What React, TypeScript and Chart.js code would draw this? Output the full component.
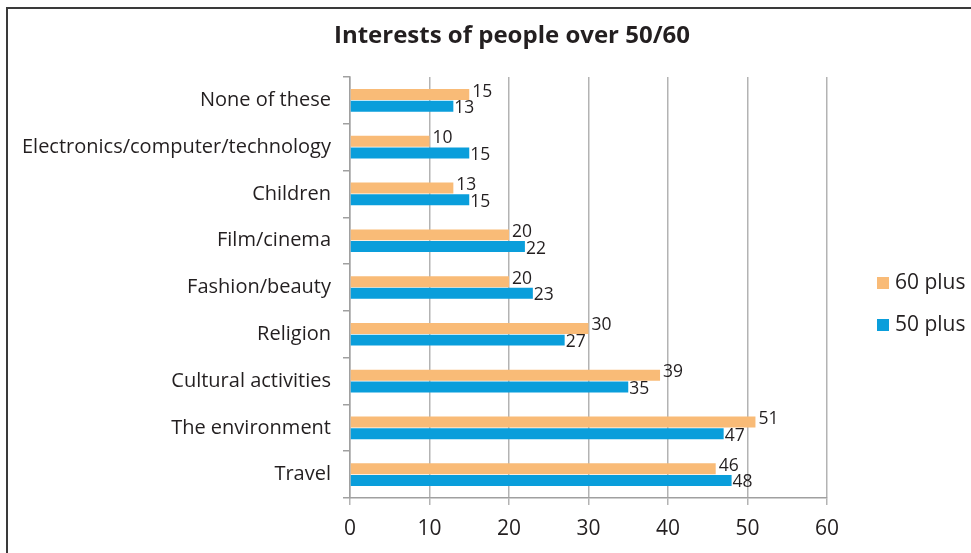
import React, { useEffect, useRef } from "react";
import { Chart, registerables } from "chart.js";

Chart.register(...registerables);

const categories = [
  "None of these",
  "Electronics/computer/technology",
  "Children",
  "Film/cinema",
  "Fashion/beauty",
  "Religion",
  "Cultural activities",
  "The environment",
  "Travel",
];
const plus60 = [15, 10, 13, 20, 20, 30, 39, 51, 46];
const plus50 = [13, 15, 15, 22, 23, 27, 35, 47, 48];
const seriesNames = ["60 plus", "50 plus"];
const seriesColors = ["#F9BB77", "#0A9EDB"];
const xTicks = [0, 10, 20, 30, 40, 50, 60];
const titleText = "Interests of people over 50/60";

const FONT = "'Open Sans', 'Noto Sans', sans-serif";
const TEXT = "#231F20";

const framePlugin = {
  id: "frame",
  afterDraw(chart: any) {
    const ctx = chart.ctx;
    ctx.save();
    ctx.strokeStyle = "#3a3a3a";
    ctx.lineWidth = 2;
    ctx.beginPath();
    ctx.moveTo(7, chart.height + 5);
    ctx.lineTo(7, 8);
    ctx.lineTo(chart.width + 5, 8);
    ctx.stroke();
    ctx.restore();
  },
};

const titlePlugin = {
  id: "customTitle",
  afterDraw(chart: any) {
    const ctx = chart.ctx;
    ctx.save();
    ctx.font = `bold 24px ${FONT}`;
    ctx.fillStyle = TEXT;
    ctx.textAlign = "center";
    ctx.textBaseline = "middle";
    ctx.fillText(titleText, 512, 36);
    ctx.restore();
  },
};

const labelPlugin = {
  id: "barLabels",
  afterDatasetsDraw(chart: any) {
    const ctx = chart.ctx;
    ctx.save();
    ctx.font = `17.5px ${FONT}`;
    ctx.fillStyle = TEXT;
    ctx.textAlign = "left";
    ctx.textBaseline = "middle";
    chart.data.datasets.forEach((ds: any, di: number) => {
      const meta = chart.getDatasetMeta(di);
      meta.data.forEach((el: any, i: number) => {
        const dx = di === 0 ? 3 : 1;
        const dy = di === 0 ? -3 : 2;
        ctx.fillText(String(ds.data[i]), el.x + dx, el.y + dy);
      });
    });
    ctx.restore();
  },
};

const legendPlugin = {
  id: "customLegend",
  afterDraw(chart: any) {
    const ctx = chart.ctx;
    const area = chart.chartArea;
    ctx.save();
    ctx.font = `21px ${FONT}`;
    ctx.textBaseline = "middle";
    ctx.textAlign = "left";
    const x0 = area.right + 50;
    const yc = [283, 325];
    chart.data.datasets.forEach((ds: any, i: number) => {
      ctx.fillStyle = ds.backgroundColor;
      ctx.fillRect(x0, yc[i] - 6, 12, 12);
      ctx.fillStyle = TEXT;
      ctx.fillText(ds.label, x0 + 18, yc[i]);
    });
    ctx.restore();
  },
};

export default function App() {
  const ref = useRef<HTMLCanvasElement | null>(null);
  useEffect(() => {
    document.body.style.margin = "0";
    const chart = new Chart(ref.current as HTMLCanvasElement, {
      type: "bar",
      data: {
        labels: categories,
        datasets: [
          {
            label: seriesNames[0],
            data: plus60,
            backgroundColor: seriesColors[0],
            barPercentage: 0.94,
            categoryPercentage: 0.5,
          },
          {
            label: seriesNames[1],
            data: plus50,
            backgroundColor: seriesColors[1],
            barPercentage: 0.94,
            categoryPercentage: 0.5,
          },
        ],
      },
      options: {
        indexAxis: "y",
        animation: false,
        responsive: false,
        maintainAspectRatio: false,
        layout: { padding: { left: 0, right: 144, top: 77, bottom: 0 } },
        plugins: {
          legend: { display: false },
          tooltip: { enabled: false },
          title: { display: false },
        },
        scales: {
          x: {
            min: 0,
            max: 60,
            afterFit(scale: any) {
              scale.height = 55;
            },
            afterBuildTicks(scale: any) {
              scale.ticks = xTicks.map((v) => ({ value: v }));
            },
            grid: {
              color: "#b3b3b3",
              lineWidth: 1.5,
              tickLength: 7,
            },
            border: { color: "#a0a0a0", width: 1.5 },
            ticks: {
              color: TEXT,
              font: { family: FONT, size: 21 },
              padding: 11,
              maxRotation: 0,
            },
          },
          y: {
            afterFit(scale: any) {
              scale.width = 350;
            },
            grid: {
              drawOnChartArea: false,
              color: "#a0a0a0",
              lineWidth: 1.5,
              tickLength: 7,
              offset: true,
            },
            border: { color: "#a0a0a0", width: 1.5 },
            ticks: {
              color: TEXT,
              font: { family: FONT, size: 20 },
              padding: 12,
            },
          },
        },
      },
      plugins: [labelPlugin, legendPlugin, titlePlugin, framePlugin],
    } as any);
    return () => chart.destroy();
  }, []);
  return (
    <div style={{ position: "absolute", left: 0, top: 0, width: 971, height: 553 }}>
      <canvas ref={ref} width={971} height={553} style={{ display: "block" }} />
    </div>
  );
}
